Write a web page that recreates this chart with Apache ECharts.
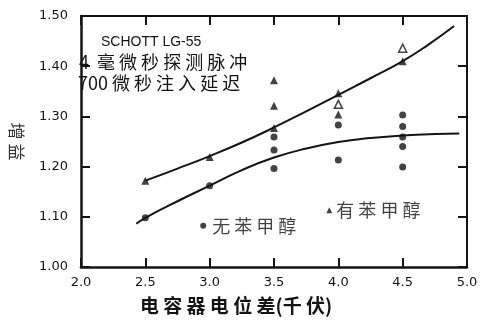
<!DOCTYPE html>
<html><head><meta charset="utf-8">
<script src="https://cdn.jsdelivr.net/npm/echarts@6/dist/echarts.min.js"></script>
<style>html,body{margin:0;padding:0;background:#fff}#c{width:484px;height:320px}</style>
</head><body><div id="c"></div>
<script>
const xTicks = [2.0, 2.5, 3.0, 3.5, 4.0, 4.5, 5.0];
const yTicks = [1.00, 1.10, 1.20, 1.30, 1.40, 1.50];
const withBenzylFilled = [[2.5,1.172],[3.0,1.219],[3.5,1.372],[3.5,1.321],[3.5,1.277],[4.0,1.346],[4.0,1.304],[4.5,1.410]];
const withBenzylHollow = [[4.0,1.324],[4.5,1.436]];
const withoutBenzyl = [[2.5,1.098],[3.0,1.162],[3.5,1.259],[3.5,1.233],[3.5,1.196],[4.0,1.283],[4.0,1.213],[4.5,1.303],[4.5,1.280],[4.5,1.259],[4.5,1.240],[4.5,1.199]];
const upperFit = [[2.5,1.172],[2.75,1.196],[3.0,1.221],[3.25,1.248],[3.5,1.278],[3.75,1.310],[4.0,1.343],[4.25,1.376],[4.5,1.410],[4.7,1.443],[4.9,1.480]];
const lowerFit = [[2.43,1.086],[2.5,1.098],[2.75,1.131],[3.0,1.162],[3.25,1.193],[3.5,1.218],[3.75,1.236],[4.0,1.249],[4.25,1.257],[4.5,1.262],[4.75,1.265],[4.94,1.266]];
const legendCircle = [[2.95,1.082]];
const legendTriangle = [[3.93,1.113]];

const ink = '#141414';
const cjk = '"Noto Sans CJK SC", sans-serif';
const chart = echarts.init(document.getElementById('c'));
const xMin = xTicks[0], xMax = xTicks[xTicks.length-1];
const yMin = yTicks[0], yMax = yTicks[yTicks.length-1];
function axisBase(extra) {
  return Object.assign({
    type: 'value', splitLine: {show:false},
    axisLine: {show:true, lineStyle:{color:ink, width:2}},
    axisTick: {show:true, inside:true, length:9, lineStyle:{color:ink, width:2}}
  }, extra);
}
chart.setOption({
  animation: false,
  backgroundColor: '#fff',
  grid: {left:76, right:17, top:16, bottom:53},
  xAxis: [
    axisBase({min:xMin, max:xMax, interval:0.5, position:'bottom',
      axisLine:{show:true, lineStyle:{color:ink, width:2.5}},
      axisLabel:{color:ink, fontSize:13, fontFamily:'DejaVu Sans', margin:9, formatter:v=>v.toFixed(1)},
      name:'电 容 器 电 位 差(千 伏)', nameLocation:'middle', nameGap:29,
      nameTextStyle:{color:ink, fontSize:19, fontWeight:'bold', fontFamily:cjk, padding:[0,76,0,0]}}),
    axisBase({min:xMin, max:xMax, interval:0.5, position:'top', axisLabel:{show:false}})
  ],
  yAxis: [
    axisBase({min:yMin, max:yMax, interval:0.1, position:'left',
      axisLine:{show:true, lineStyle:{color:ink, width:2.5}},
      axisLabel:{color:ink, fontSize:13, fontFamily:'DejaVu Sans', margin:13, formatter:v=>v.toFixed(2)},
      name:'增 益', nameLocation:'middle', nameGap:56, nameRotate:-90,
      nameTextStyle:{color:'#333', fontSize:17, fontFamily:cjk}}),
    axisBase({min:yMin, max:yMax, interval:0.1, position:'right', axisLabel:{show:false}})
  ],
  graphic: [
    {type:'text', left:101, top:35, style:{text:'SCHOTT LG-55', fill:ink, font:'14px "Liberation Sans", sans-serif'}},
    {type:'text', left:79, top:53, style:{text:'4  毫 微 秒 探 测 脉 冲', fill:ink, font:'18px "Noto Sans CJK SC", sans-serif'}},
    {type:'text', left:78, top:74, style:{text:'700 微 秒 注 入 延 迟', fill:ink, font:'18px "Noto Sans CJK SC", sans-serif'}}
  ],
  series: [
    {type:'line', data:upperFit, smooth:true, showSymbol:false, lineStyle:{color:ink, width:2}, z:2},
    {type:'line', data:lowerFit, smooth:true, showSymbol:false, lineStyle:{color:ink, width:2}, z:2},
    {type:'scatter', data:withBenzylFilled, symbol:'triangle', symbolSize:8, itemStyle:{color:ink}, z:3},
    {type:'scatter', data:withBenzylHollow, symbol:'triangle', symbolSize:8, itemStyle:{color:'#fff', borderColor:ink, borderWidth:1.5}, z:3},
    {type:'scatter', data:withoutBenzyl, symbol:'circle', symbolSize:7, itemStyle:{color:ink}, z:3},
    {type:'scatter', data:legendCircle, symbol:'circle', symbolSize:6, itemStyle:{color:ink},
      label:{show:true, position:'right', distance:6, formatter:'无 苯 甲 醇', color:ink, fontSize:18, fontFamily:cjk}},
    {type:'scatter', data:legendTriangle, symbol:'triangle', symbolSize:6, itemStyle:{color:ink},
      label:{show:true, position:'right', distance:4, formatter:'有 苯 甲 醇', color:ink, fontSize:18, fontFamily:cjk}}
  ]
});
</script></body></html>
